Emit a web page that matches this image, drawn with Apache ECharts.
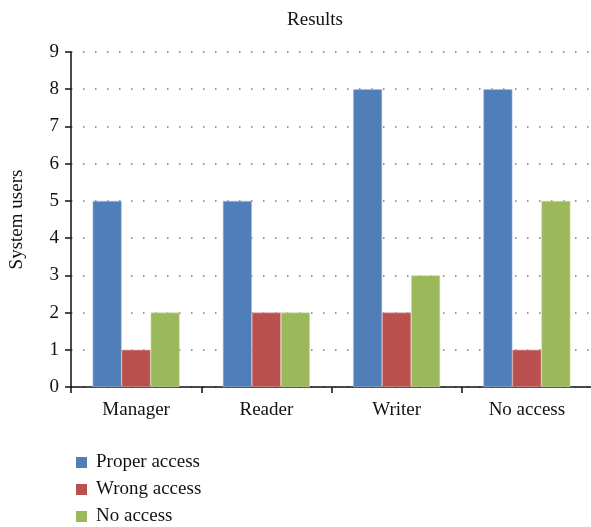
<!DOCTYPE html>
<html>
<head>
<meta charset="utf-8">
<script src="https://cdn.jsdelivr.net/npm/echarts@6/dist/echarts.min.js"></script>
<style>
  html, body { margin: 0; padding: 0; background: #fff; }
  #chart { width: 591px; height: 527px; }
</style>
</head>
<body>
<div id="chart"></div>
<script>
var categories = ['Manager', 'Reader', 'Writer', 'No access'];
var seriesNames = ['Proper access', 'Wrong access', 'No access'];
var properAccess = [5, 5, 8, 8];
var wrongAccess = [1, 2, 2, 1];
var noAccess = [2, 2, 3, 5];
var yTicks = [0, 1, 2, 3, 4, 5, 6, 7, 8, 9];

var font = 'Liberation Serif';
var colors = ['#4F7EB8', '#BA504D', '#9BB85B'];
var edges = ['#A9C0DD', '#DDA9A7', '#CFDDAE'];

var myChart = echarts.init(document.getElementById('chart'));

function barSeries(i, data) {
    return {
        name: seriesNames[i],
        type: 'bar',
        data: data,
        barWidth: 29,
        barGap: '0%',
        itemStyle: { color: colors[i], borderColor: edges[i], borderWidth: 0.6 }
    };
}

var option = {
    animation: false,
    backgroundColor: '#fff',
    title: {
        text: 'Results',
        left: 310,
        top: 6,
        textAlign: 'center',
        textStyle: { fontFamily: font, fontWeight: 'normal', fontSize: 19, color: '#111' }
    },
    legend: {
        orient: 'vertical',
        left: 71,
        top: 448,
        height: 80,
        itemWidth: 11,
        itemHeight: 11,
        itemGap: 8,
        icon: 'rect',
        data: seriesNames,
        itemStyle: { borderWidth: 0 },
        textStyle: { fontFamily: font, fontSize: 19, color: '#111', padding: [0, 0, 0, 4] }
    },
    grid: { left: 71, right: -1, top: 52, bottom: 140, outerBoundsMode: 'none' },
    xAxis: {
        type: 'category',
        data: categories,
        axisLine: { lineStyle: { color: '#111', width: 1.5 } },
        axisTick: { show: true, length: 6, lineStyle: { color: '#111', width: 1.5 } },
        axisLabel: { fontFamily: font, fontSize: 19, color: '#111', margin: 14 }
    },
    yAxis: {
        type: 'value',
        min: 0,
        max: 9,
        interval: 1,
        name: 'System users',
        nameLocation: 'middle',
        nameGap: 44,
        nameTextStyle: { fontFamily: font, fontSize: 19, color: '#111' },
        axisLine: { show: true, lineStyle: { color: '#111', width: 1.5 } },
        axisTick: { show: true, length: 6, lineStyle: { color: '#111', width: 1.5 } },
        axisLabel: {
            fontFamily: font, fontSize: 19, color: '#111', margin: 12,
            formatter: function (v) { return yTicks.indexOf(v) >= 0 ? String(v) : ''; }
        },
        splitLine: {
            show: true,
            lineStyle: { color: '#777', width: 1.5, type: [1.5, 10.5] }
        }
    },
    series: [
        barSeries(0, properAccess),
        barSeries(1, wrongAccess),
        barSeries(2, noAccess)
    ]
};

myChart.setOption(option);
window.addEventListener('resize', function () {
    myChart.resize();
});
</script>
</body>
</html>
